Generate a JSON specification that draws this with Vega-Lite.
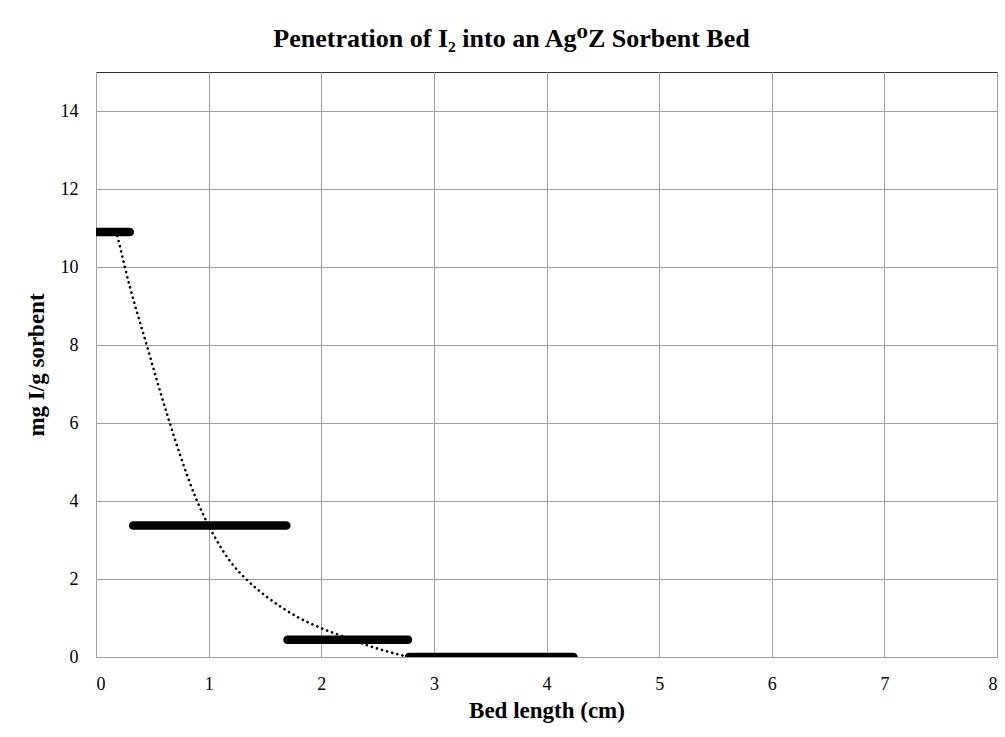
{
  "$schema": "https://vega.github.io/schema/vega-lite/v6.json",
  "width": 901,
  "height": 585,
  "autosize": {"type": "none"},
  "padding": {"left": 96, "top": 72, "right": 8, "bottom": 80},
  "background": "white",
  "title": {
    "text": "Penetration of I₂ into an Ag⁰Z Sorbent Bed",
    "font": "Liberation Serif, DejaVu Serif",
    "fontSize": 26,
    "fontWeight": "bold",
    "color": "black",
    "anchor": "middle",
    "frame": "group",
    "dx": -35,
    "offset": 20
  },
  "config": {
    "view": {"stroke": "#333", "strokeWidth": 1},
    "axis": {
      "labelFont": "Liberation Serif",
      "labelFontSize": 18,
      "labelColor": "black",
      "titleFont": "Liberation Serif",
      "titleFontSize": 23,
      "titleFontWeight": "bold",
      "titleColor": "black",
      "gridColor": "#a0a0a0",
      "gridWidth": 1,
      "gridOpacity": 1,
      "domainColor": "#a0a0a0",
      "ticks": false,
      "labelPadding": 18
    }
  },
  "datasets": {
    "segments": [
      {"x": 0, "x2": 0.3, "y": 10.9},
      {"x": 0.33, "x2": 1.69, "y": 3.37},
      {"x": 1.7, "x2": 2.77, "y": 0.44},
      {"x": 2.78, "x2": 4.24, "y": 0}
    ],
    "curve": [
      {"x": 0.19, "y": 10.8},
      {"x": 0.3, "y": 9.5},
      {"x": 0.45, "y": 8.0},
      {"x": 0.55, "y": 7.0},
      {"x": 0.65, "y": 6.05},
      {"x": 0.75, "y": 5.15},
      {"x": 0.89, "y": 4.05},
      {"x": 1.0, "y": 3.37},
      {"x": 1.1, "y": 2.85},
      {"x": 1.2, "y": 2.42},
      {"x": 1.35, "y": 1.95},
      {"x": 1.5, "y": 1.58},
      {"x": 1.65, "y": 1.27},
      {"x": 1.8, "y": 1.01},
      {"x": 2.0, "y": 0.74},
      {"x": 2.2, "y": 0.52},
      {"x": 2.4, "y": 0.31},
      {"x": 2.6, "y": 0.13},
      {"x": 2.75, "y": 0.02}
    ]
  },
  "layer": [
    {
      "data": {"name": "curve"},
      "mark": {"type": "line", "color": "black", "strokeWidth": 2.6, "strokeDash": [0.1, 5.2], "strokeCap": "round", "interpolate": "monotone", "clip": true},
      "encoding": {
        "x": {"field": "x", "type": "quantitative", "scale": {"domain": [0, 8], "nice": false}, "axis": {"title": "Bed length (cm)", "values": [0, 1, 2, 3, 4, 5, 6, 7, 8], "format": "d", "titlePadding": 6}},
        "y": {"field": "y", "type": "quantitative", "scale": {"domain": [0, 15], "nice": false}, "axis": {"title": "mg I/g sorbent", "values": [0, 2, 4, 6, 8, 10, 12, 14], "format": "d", "titlePadding": 12}}
      }
    },
    {
      "data": {"name": "segments"},
      "mark": {"type": "rule", "color": "black", "strokeWidth": 8.5, "strokeCap": "round", "clip": true},
      "encoding": {
        "x": {"field": "x", "type": "quantitative"},
        "x2": {"field": "x2"},
        "y": {"field": "y", "type": "quantitative"}
      }
    }
  ]
}
